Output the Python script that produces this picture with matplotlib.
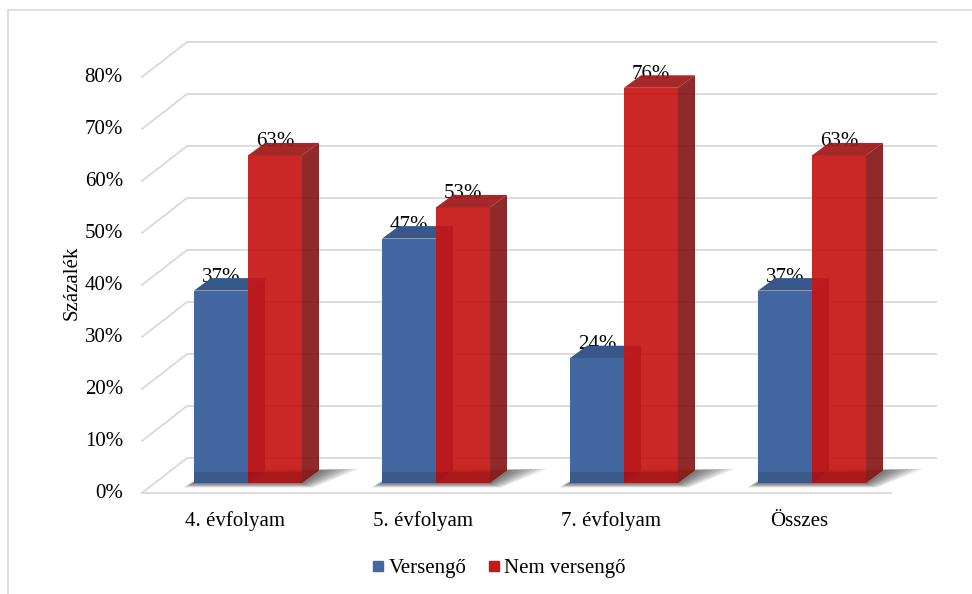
import matplotlib
matplotlib.use('Agg')
import matplotlib.pyplot as plt
from matplotlib.lines import Line2D

categories = ['4. évfolyam', '5. évfolyam', '7. évfolyam', 'Összes']
versengo = [37, 47, 24, 37]
nem_versengo = [63, 53, 76, 63]
series_names = ['Versengő', 'Nem versengő']
yticks = [0, 10, 20, 30, 40, 50, 60, 70, 80]

plt.rcParams['font.family'] = ['Liberation Serif', 'DejaVu Serif']

# pixel sizes in data units (category step 188 px, 1% = 5.2 px)
PX_X = 1 / 188.0
PX_Y = 1 / 5.2
DX, DY = 45 * PX_X, 35 * PX_Y          # depth of the floor / walls
OFF_X, OFF_Y = 13 * PX_X, 10 * PX_Y    # where the bar fronts sit
BDX, BDY = 17 * PX_X, 12.5 * PX_Y      # bar depth
BAR_W = 54 * PX_X
X0, X1 = -0.495, 3.49

grid_c = '#D9D9D9'
blue = ('#4367A0', '#38578A', '#2E4A78')
red = ('#C61616', '#9E1818', '#881818')

fig = plt.figure(figsize=(9.72, 5.94), dpi=100)
ax = fig.add_axes([100 / 972, 84 / 594, 860 / 972, 490 / 594])
ax.set_xlim((100 - 235) / 188.0, (960 - 235) / 188.0)
ax.set_ylim(-(510 - 493) / 5.2, 80 + (77 - 20) / 5.2)
ax.axis('off')

# chart border
fig.add_artist(Line2D([8 / 972, 8 / 972], [0, 1 - 10 / 594], color='#D9D9D9', lw=1.2))
fig.add_artist(Line2D([8 / 972, 1], [1 - 10 / 594, 1 - 10 / 594], color='#D9D9D9', lw=1.2))

# gridlines: left wall diagonal + back wall
for v in yticks:
    ax.plot([X0, X0 + DX, X1 + DX], [v, v + DY, v + DY], color=grid_c, lw=1.3, zorder=1)
    ax.text(X0 - 19 * PX_X, v, '%d%%' % v, ha='right', va='center', fontsize=15, color='#000000')
ax.plot([X0, X1], [0, 0], color=grid_c, lw=1.3, zorder=1)

def draw_box(xl, h, cols, alpha, z):
    xr = xl + BAR_W
    yb = OFF_Y
    yt = OFF_Y + h
    ax.fill([xr, xr + BDX, xr + BDX, xr], [yb, yb + BDY, yt + BDY, yt], color=cols[2], alpha=alpha, lw=0, zorder=z)
    ax.fill([xl, xr, xr + BDX, xl + BDX], [yt, yt, yt + BDY, yt + BDY], color=cols[1], alpha=alpha, lw=0, zorder=z)
    ax.bar(xl, h, width=BAR_W, bottom=yb, align='edge', color=cols[0], alpha=alpha, lw=0, zorder=z)
    # darker band at the foot of the bar
    ax.bar(xl, 11 * PX_Y, width=BAR_W, bottom=yb, align='edge', color='black', alpha=0.12, lw=0, zorder=z)

for i in range(len(categories)):
    # soft shadow on the floor
    xl = i + OFF_X - BAR_W
    xr = i + OFF_X + BAR_W
    for k in range(6):
        e = (k + 1) * 3
        ax.fill([xl - e * PX_X * 0.6, xr + e * PX_X * 0.6, xr + BDX + e * PX_X * 2.2, xl + BDX],
                [OFF_Y - e * PX_Y * 0.25, OFF_Y - e * PX_Y * 0.25, OFF_Y + BDY + e * PX_Y * 0.1, OFF_Y + BDY],
                color='black', alpha=0.11, lw=0, zorder=2)
    draw_box(i + OFF_X - BAR_W, versengo[i], blue, 1.0, 4 + i * 2)
    draw_box(i + OFF_X, nem_versengo[i], red, 0.93, 5 + i * 2)
    ax.text(i + OFF_X - BAR_W / 2, versengo[i] + OFF_Y + 9 * PX_Y, '%d%%' % versengo[i],
            ha='center', va='baseline', fontsize=15, zorder=3)
    ax.text(i + OFF_X + BAR_W / 2, nem_versengo[i] + OFF_Y + 9 * PX_Y, '%d%%' % nem_versengo[i],
            ha='center', va='baseline', fontsize=15, zorder=3)
    ax.text(i, -(521 - 493) * PX_Y, categories[i], ha='center', va='center', fontsize=15)

ax.text((72 - 235) * PX_X, 40.4, 'Százalék', rotation=90, ha='center', va='center', fontsize=15)

handles = [Line2D([], [], marker='s', ls='', markersize=7.5, markerfacecolor=blue[0], markeredgecolor=blue[0]),
           Line2D([], [], marker='s', ls='', markersize=7.5, markerfacecolor=red[0], markeredgecolor=red[0])]
fig.legend(handles, series_names, loc='center', bbox_to_anchor=(499 / 972, 1 - 568 / 594), ncol=2,
           frameon=False, fontsize=15, handlelength=0.6, handletextpad=0.2, columnspacing=1.0)

fig.savefig('out.png', dpi=100)
